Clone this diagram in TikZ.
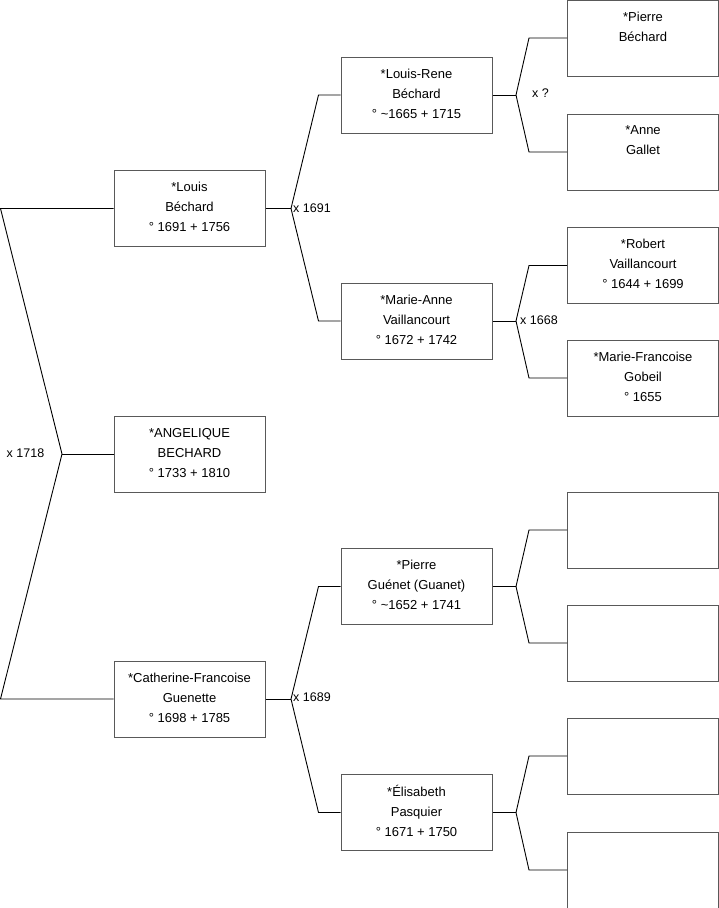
\documentclass[tikz,border=0pt]{standalone}
\usepackage{fontspec}
\setmainfont{Liberation Sans}
\begin{document}
\begin{tikzpicture}[x=1pt,y=-1pt,
  person/.style={draw=black!65,line width=1pt,fill=white,minimum width=151pt,minimum height=76pt,inner sep=0pt,
    align=center,font=\fontsize{13}{20}\selectfont,text=black,text depth=3pt},
  link/.style={draw=black,line width=0.9pt},
  lab/.style={anchor=west,inner sep=0pt,font=\fontsize{12.5}{14}\selectfont,text=black}]
\useasboundingbox (0,0) rectangle (719,908);
% generation 1
\node[person] (louis) at (189.5,208.5) {*Louis\\Béchard\\° 1691 + 1756};
\node[person] (ang) at (189.5,454) {*ANGELIQUE\\BECHARD\\° 1733 + 1810};
\node[person] (cath) at (189.5,699) {*Catherine-Francoise\\Guenette\\° 1698 + 1785};
% generation 2
\node[person] (lr) at (416.5,95) {*Louis-Rene\\Béchard\\° \textasciitilde 1665 + 1715};
\node[person] (ma) at (416.5,321) {*Marie-Anne\\Vaillancourt\\° 1672 + 1742};
\node[person] (pg) at (416.5,586.5) {*Pierre\\Guénet (Guanet)\\° \textasciitilde 1652 + 1741};
\node[person] (el) at (416.5,812.5) {*Élisabeth\\Pasquier\\° 1671 + 1750};
% generation 3
\node[person] (r1) at (643,38) {*Pierre\\Béchard\\\phantom{° 1}};
\node[person] (r2) at (643,152) {*Anne\\Gallet\\\phantom{° 1}};
\node[person] (r3) at (643,265.5) {*Robert\\Vaillancourt\\° 1644 + 1699};
\node[person] (r4) at (643,378) {*Marie-Francoise\\Gobeil\\° 1655};
\node[person] (r5) at (643,530) {};
\node[person] (r6) at (643,643) {};
\node[person] (r7) at (643,756) {};
\node[person] (r8) at (643,870) {};
% junctions
\coordinate (j0) at (62,454);
\coordinate (j1) at (291,208.5);
\coordinate (j2) at (291,699);
\coordinate (j3) at (516,95);
\coordinate (j4) at (516,321);
\coordinate (j5) at (516,586.5);
\coordinate (j6) at (516,812.5);
% connectors
\draw[link] (louis.west) -- ([xshift=-113pt]louis.west) -- (j0) -- ([xshift=-113pt]cath.west) -- (cath.west);
\draw[link] (j0) -- (ang.west);
\draw[link] (louis.east) -- (j1);
\draw[link] (lr.west) -- ([xshift=-22pt]lr.west) -- (j1) -- ([xshift=-22pt]ma.west) -- (ma.west);
\draw[link] (cath.east) -- (j2);
\draw[link] (pg.west) -- ([xshift=-22pt]pg.west) -- (j2) -- ([xshift=-22pt]el.west) -- (el.west);
\draw[link] (lr.east) -- (j3);
\draw[link] (r1.west) -- ([xshift=-38pt]r1.west) -- (j3) -- ([xshift=-38pt]r2.west) -- (r2.west);
\draw[link] (ma.east) -- (j4);
\draw[link] (r3.west) -- ([xshift=-38pt]r3.west) -- (j4) -- ([xshift=-38pt]r4.west) -- (r4.west);
\draw[link] (pg.east) -- (j5);
\draw[link] (r5.west) -- ([xshift=-38pt]r5.west) -- (j5) -- ([xshift=-38pt]r6.west) -- (r6.west);
\draw[link] (el.east) -- (j6);
\draw[link] (r7.west) -- ([xshift=-38pt]r7.west) -- (j6) -- ([xshift=-38pt]r8.west) -- (r8.west);
% marriage labels
\node[lab] (m0) at (6.5,453.5) {x 1718};
\node[lab] (m1) at (293,208) {x 1691};
\node[lab] (m2) at (293,697.5) {x 1689};
\node[lab] (m3) at (532,93.5) {x ?};
\node[lab] (m4) at (520,320) {x 1668};
\end{tikzpicture}
\end{document}
